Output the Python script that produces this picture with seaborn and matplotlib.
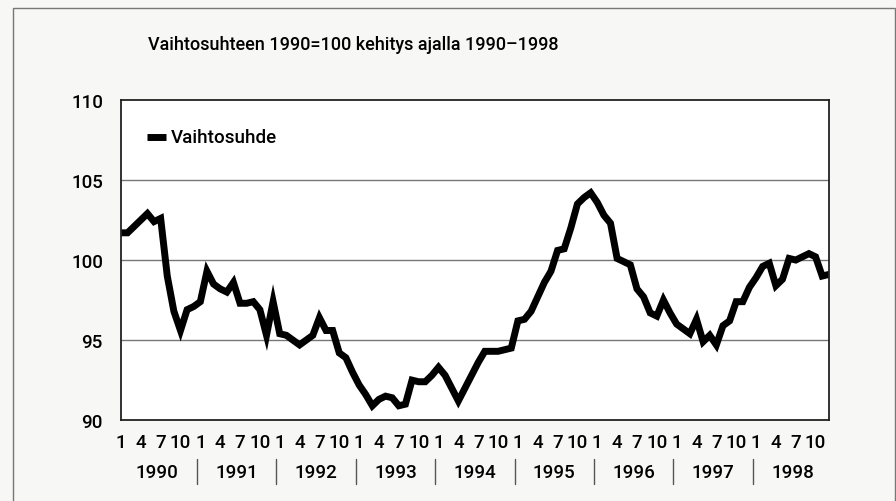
import numpy as np
import pandas as pd
import matplotlib
matplotlib.use("Agg")
import matplotlib.pyplot as plt
import seaborn as sns

# monthly terms of trade index, Jan 1990 - Dec 1998 (1990=100)
years = list(range(1990, 1999))
month_labels = ["1", "4", "7", "10"]
vaihtosuhde = [
    101.7, 101.7, 102.1, 102.5, 102.9, 102.4, 102.6, 99.0, 96.8, 95.6, 96.9, 97.1,
    97.4, 99.3, 98.5, 98.2, 98.0, 98.6, 97.3, 97.3, 97.4, 96.9, 95.3, 97.4,
    95.4, 95.3, 95.0, 94.7, 95.0, 95.3, 96.4, 95.6, 95.6, 94.2, 93.9, 93.0,
    92.2, 91.6, 90.9, 91.3, 91.5, 91.4, 90.9, 91.0, 92.5, 92.4, 92.4, 92.8,
    93.3, 92.8, 92.0, 91.2, 92.0, 92.8, 93.6, 94.3, 94.3, 94.3, 94.4, 94.5,
    96.2, 96.3, 96.8, 97.7, 98.6, 99.3, 100.6, 100.7, 102.0, 103.5, 103.9, 104.2,
    103.6, 102.8, 102.3, 100.1, 99.9, 99.7, 98.2, 97.7, 96.7, 96.5, 97.5, 96.7,
    96.0, 95.7, 95.4, 96.3, 94.9, 95.3, 94.7, 95.9, 96.2, 97.4, 97.4, 98.3,
    98.9, 99.6, 99.8, 98.4, 98.8, 100.1, 100.0, 100.2, 100.4, 100.2, 99.0, 99.1,
]

df = pd.DataFrame({"kk": np.arange(len(vaihtosuhde)), "Vaihtosuhde": vaihtosuhde})

sns.set_theme(style="white")
plt.rcParams["font.family"] = ["Roboto", "DejaVu Sans"]
plt.rcParams["font.weight"] = "medium"
plt.rcParams["text.color"] = "black"
plt.rcParams["xtick.color"] = "black"
plt.rcParams["ytick.color"] = "black"

fig = plt.figure(figsize=(8.96, 5.02), dpi=100, facecolor="#f7f7f5")
ax = fig.add_axes([0.135, 0.161, 0.79, 0.638])
ax.set_facecolor("white")

sns.lineplot(data=df, x="kk", y="Vaihtosuhde", ax=ax, color="black",
             linewidth=5.0, solid_joinstyle="miter", legend=False)

ax.set_xlim(0, len(vaihtosuhde) - 1)
ax.set_ylim(90, 110)
ax.set_yticks([90, 95, 100, 105, 110])
ax.tick_params(axis="y", labelsize=13.5, length=0, pad=13)
for y in [95, 100, 105]:
    ax.axhline(y, color="#777777", linewidth=1.0, zorder=0)
for s in ax.spines.values():
    s.set_color("#222222")
    s.set_linewidth(1.3)

# month ticks 1,4,7,10 for each year
pos = [12 * k + m for k in range(len(years)) for m in (0, 3, 6, 9)]
labs = month_labels * len(years)
ax.set_xticks(pos)
ax.set_xticklabels(labs, fontsize=13.5)
ax.tick_params(axis="x", length=0, pad=9)
ax.set_xlabel("")
ax.set_ylabel("")

# year labels and separators below the month labels
trans = ax.get_xaxis_transform()
for k, yr in enumerate(years):
    ax.text(12 * k + 5.5, -0.163, str(yr), transform=trans, ha="center",
            va="center", fontsize=13.5, clip_on=False)
    if k > 0:
        ax.plot([12 * k - 0.5, 12 * k - 0.5], [-0.12, -0.20], transform=trans,
                color="#555555", linewidth=1.0, clip_on=False)

# legend
ax.plot([3.9, 6.8], [107.7, 107.7], color="black", linewidth=5.0,
        solid_capstyle="butt")
ax.text(7.6, 107.7, "Vaihtosuhde", fontsize=13.5, va="center", ha="left")

fig.text(0.165, 0.91, "Vaihtosuhteen 1990=100 kehitys ajalla 1990\u20131998",
         fontsize=13, ha="left", va="center")

# outer frame
fig.add_artist(plt.Rectangle((0.0145, -0.02), 0.984, 1.002, fill=False,
                             edgecolor="#777777", linewidth=1.0,
                             transform=fig.transFigure))

fig.savefig("out.png", dpi=100, facecolor=fig.get_facecolor())
